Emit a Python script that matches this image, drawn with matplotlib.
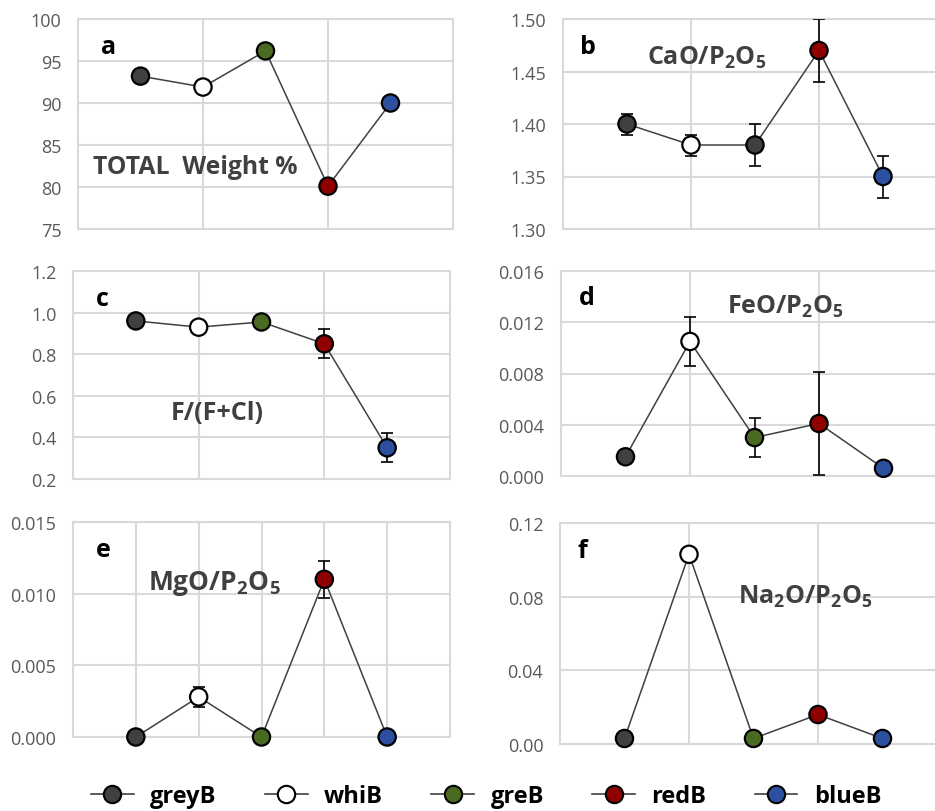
import numpy as np
import matplotlib
matplotlib.use("Agg")
import matplotlib.pyplot as plt
from matplotlib.lines import Line2D

plt.rcParams['font.family'] = ['Open Sans', 'DejaVu Sans']
plt.rcParams['mathtext.fontset'] = 'custom'
plt.rcParams['mathtext.rm'] = 'Open Sans:bold'
plt.rcParams['mathtext.it'] = 'Open Sans:bold'
plt.rcParams['mathtext.bf'] = 'Open Sans:bold'

# ---- data ----
groups = ["greyB", "whiB", "greB", "redB", "blueB"]
group_colors = ["#404040", "#ffffff", "#4a6a22", "#8f0000", "#2c4fa0"]

total_weight = [93.2, 91.9, 96.2, 80.1, 90.0]

cao_p2o5 = [1.40, 1.38, 1.38, 1.47, 1.35]
cao_p2o5_err = [0.01, 0.01, 0.02, 0.03, 0.02]
cao_colors = ["#404040", "#ffffff", "#404040", "#8f0000", "#2c4fa0"]

f_fcl = [0.96, 0.93, 0.955, 0.85, 0.35]
f_fcl_err = [np.nan, np.nan, np.nan, 0.07, 0.07]

feo_p2o5 = [0.0015, 0.0105, 0.0030, 0.0041, 0.0006]
feo_p2o5_err = [np.nan, 0.0019, 0.0015, 0.0040, np.nan]

mgo_p2o5 = [0.0, 0.0028, 0.0, 0.0110, 0.0]
mgo_p2o5_err = [np.nan, 0.0007, np.nan, 0.0013, np.nan]

na2o_p2o5 = [0.003, 0.103, 0.003, 0.016, 0.003]

W, H = 935, 812
fig = plt.figure(figsize=(W / 100, H / 100), dpi=100)

GRID = "#d9d9d9"
TICKC = "#595959"
LINEC = "#404040"
TITLEC = "#404040"


def make_ax(left, top, width, bottom):
    return fig.add_axes([left / W, 1 - bottom / H, width / W, (bottom - top) / H])


def draw(ax, vals, colors, ylim, yticks, fmt, err=None, vgrid=(2, 4)):
    x = np.arange(1, len(vals) + 1)
    ax.set_xlim(0, 6)
    ax.set_ylim(*ylim)
    ax.set_yticks(yticks)
    ax.set_yticklabels([fmt.format(t) for t in yticks])
    ax.set_xticks([])
    for v in vgrid:
        ax.axvline(v, color=GRID, lw=1.5, zorder=0)
    for t in yticks:
        ax.axhline(t, color=GRID, lw=1.5, zorder=0)
    for s in ax.spines.values():
        s.set_color(GRID)
        s.set_linewidth(1.5)
    ax.tick_params(axis='y', length=0, labelsize=13, labelcolor=TICKC, pad=12)
    ax.plot(x, vals, color=LINEC, lw=1.1, zorder=2)
    if err is not None:
        e = np.array(err, dtype=float)
        m = ~np.isnan(e)
        ax.errorbar(x[m], np.array(vals)[m], yerr=e[m], fmt='none', ecolor='black',
                    elinewidth=1.2, capsize=4, capthick=1.2, zorder=3)
    ax.scatter(x, vals, s=155, c=colors, edgecolors='black', linewidths=1.6, zorder=4,
               clip_on=False)


# a
ax = make_ax(78, 20, 375, 230)
draw(ax, total_weight, group_colors, (75, 100), [75, 80, 85, 90, 95, 100], "{:.0f}")
ax.text(0.06, 0.93, "a", transform=ax.transAxes, fontsize=18, fontweight='bold', va='top')
ax.text(0.04, 0.30, "TOTAL  Weight %", transform=ax.transAxes, fontsize=17.8,
        fontweight='bold', color=TITLEC, va='center')

# b
ax = make_ax(563, 20, 384, 230)
draw(ax, cao_p2o5, cao_colors, (1.30, 1.50), [1.30, 1.35, 1.40, 1.45, 1.50], "{:.2f}",
     err=cao_p2o5_err)
ax.text(0.045, 0.93, "b", transform=ax.transAxes, fontsize=18, fontweight='bold', va='top')
ax.text(0.22, 0.82, r"CaO/P$_2$O$_5$", transform=ax.transAxes, fontsize=18,
        fontweight='bold', color=TITLEC, va='center')

# c
ax = make_ax(73, 272, 377, 480)
draw(ax, f_fcl, group_colors, (0.2, 1.2), [0.2, 0.4, 0.6, 0.8, 1.0, 1.2], "{:.1f}",
     err=f_fcl_err)
ax.text(0.06, 0.93, "c", transform=ax.transAxes, fontsize=18, fontweight='bold', va='top')
ax.text(0.26, 0.32, "F/(F+Cl)", transform=ax.transAxes, fontsize=18,
        fontweight='bold', color=TITLEC, va='center')

# d
ax = make_ax(561, 272, 387, 477)
draw(ax, feo_p2o5, group_colors, (0.0, 0.016), [0.0, 0.004, 0.008, 0.012, 0.016], "{:.3f}",
     err=feo_p2o5_err)
ax.text(0.045, 0.93, "d", transform=ax.transAxes, fontsize=18, fontweight='bold', va='top')
ax.text(0.43, 0.83, r"FeO/P$_2$O$_5$", transform=ax.transAxes, fontsize=18,
        fontweight='bold', color=TITLEC, va='center')

# e
ax = make_ax(73, 523, 377, 738)
draw(ax, mgo_p2o5, group_colors, (0.0, 0.015), [0.0, 0.005, 0.010, 0.015], "{:.3f}",
     err=mgo_p2o5_err, vgrid=(1, 2, 3, 4, 5))
ax.text(0.06, 0.93, "e", transform=ax.transAxes, fontsize=18, fontweight='bold', va='top')
ax.text(0.20, 0.72, r"MgO/P$_2$O$_5$", transform=ax.transAxes, fontsize=19,
        fontweight='bold', color=TITLEC, va='center')

# f
ax = make_ax(560, 524, 387, 745)
draw(ax, na2o_p2o5, group_colors, (0.0, 0.12), [0.0, 0.04, 0.08, 0.12], "{:.2f}")
ax.text(0.045, 0.93, "f", transform=ax.transAxes, fontsize=18, fontweight='bold', va='top')
ax.text(0.46, 0.67, r"Na$_2$O/P$_2$O$_5$", transform=ax.transAxes, fontsize=18,
        fontweight='bold', color=TITLEC, va='center')

# legend
handles = [Line2D([0], [0], color=LINEC, lw=1.2, marker='o', markersize=12.5,
                  markerfacecolor=c, markeredgecolor='black', markeredgewidth=1.5)
           for c in group_colors]
leg = fig.legend(handles, groups, loc='center', bbox_to_anchor=(0.52, 1 - 797 / H), ncol=5,
                 frameon=False, handlelength=1.8, columnspacing=2.05, handletextpad=0.7,
                 prop={'size': 17, 'weight': 'bold'})

fig.savefig("out.png", dpi=100)
